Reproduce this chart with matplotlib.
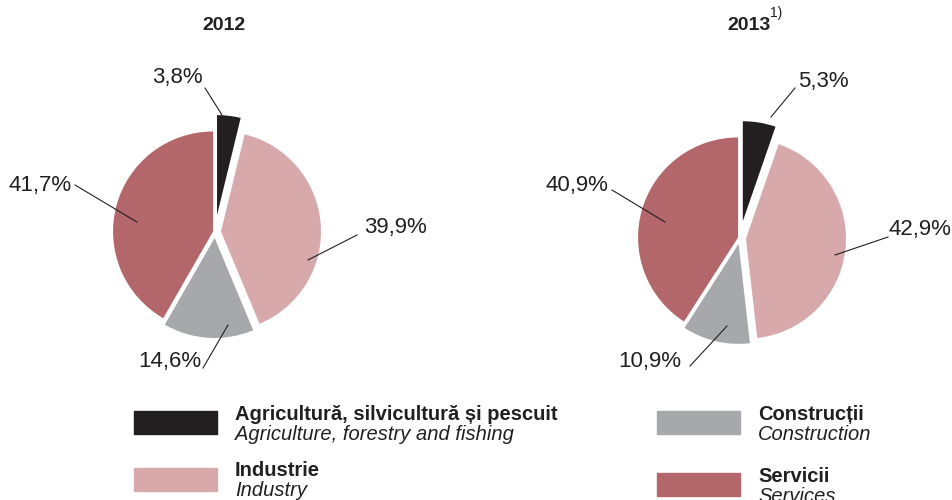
import matplotlib.pyplot as plt
import matplotlib.patches as mpatches

# data
sectors_ro = ['Agricultură, silvicultură și pescuit', 'Industrie', 'Construcții', 'Servicii']
sectors_en = ['Agriculture, forestry and fishing', 'Industry', 'Construction', 'Services']
colors = ['#231f20', '#d8a9aa', '#a7a8ab', '#b3676b']
years = ['2012', '2013']
values_2012 = [3.8, 39.9, 14.6, 41.7]
values_2013 = [5.3, 42.9, 10.9, 40.9]

plt.rcParams['font.family'] = ['Liberation Sans', 'DejaVu Sans']

fig = plt.figure(figsize=(9.52, 5), dpi=100)
W, H = 952, 500
R = 100  # pie radius in px
HALF = 1.6


def pie_axes(cx, cy):
    # axes so that one data unit = R px, centre at (cx, cy) px from top-left
    ax = fig.add_axes([(cx - HALF * R) / W, (H - cy - HALF * R) / H, 2 * HALF * R / W, 2 * HALF * R / H])
    return ax


def fmt(v):
    return ('%.1f%%' % v).replace('.', ',')


# label layout: (text x, text y, line start x, line start y, anchor x, anchor y) in px offsets from centre
layout_2012 = [(-38, -154, -10, -144, 7, -117),
               (180, -4, 142, 3, 93, 28),
               (-45, 130, -12, 136, 13, 93),
               (-175, -47, -140, -47, -78, -10)]
layout_2013 = [(83, -156, 55, -150, 31, -121),
               (180, -8, 148, -1, 95, 17),
               (-90, 124, -50, 128, -13, 88),
               (-163, -53, -128, -48, -75, -16)]

explode = [0.17, 0.06, 0.06, 0.02]

for year, vals, lay, (cx, cy) in [(years[0], values_2012, layout_2012, (215, 232)),
                                  (years[1], values_2013, layout_2013, (740, 238))]:
    ax = pie_axes(cx, cy)
    ax.pie(vals, colors=colors, startangle=90, counterclock=False, radius=1,
           explode=explode, wedgeprops=dict(linewidth=0))
    ax.set_xlim(-HALF, HALF)
    ax.set_ylim(-HALF, HALF)
    ax.set_aspect('equal')
    ax.axis('off')
    for v, (tx, ty, lx, ly, axx, ayy) in zip(vals, lay):
        ax.text(tx / R, -ty / R, fmt(v), ha='center', va='center', fontsize=16, color='#231f20', clip_on=False)
        ax.plot([lx / R, axx / R], [-ly / R, -ayy / R], color='#231f20', lw=0.8, clip_on=False)

# titles
fig.text(224 / W, 1 - 25 / H, years[0], ha='center', va='center', fontsize=14, fontweight='bold', color='#231f20')
fig.text(749 / W, 1 - 25 / H, years[1], ha='center', va='center', fontsize=14, fontweight='bold', color='#231f20')
fig.text(770 / W, 1 - 13 / H, '1)', ha='left', va='center', fontsize=10, color='#231f20')

# legend
legend_pos = [(134, 411), (134, 468), (657, 411), (657, 473)]
for (lx, ly), c, ro, en in zip(legend_pos, colors, sectors_ro, sectors_en):
    fig.patches.append(mpatches.Rectangle((lx / W, 1 - (ly + 23) / H), 83 / W, 23 / H,
                                          transform=fig.transFigure, color=c))
    fig.text((lx + 101) / W, 1 - (ly + 3) / H, ro, ha='left', va='center', fontsize=14.5,
             fontweight='bold', color='#231f20')
    fig.text((lx + 101) / W, 1 - (ly + 23) / H, en, ha='left', va='center', fontsize=14.5,
             style='italic', color='#231f20')

fig.savefig('out.png', dpi=100)
